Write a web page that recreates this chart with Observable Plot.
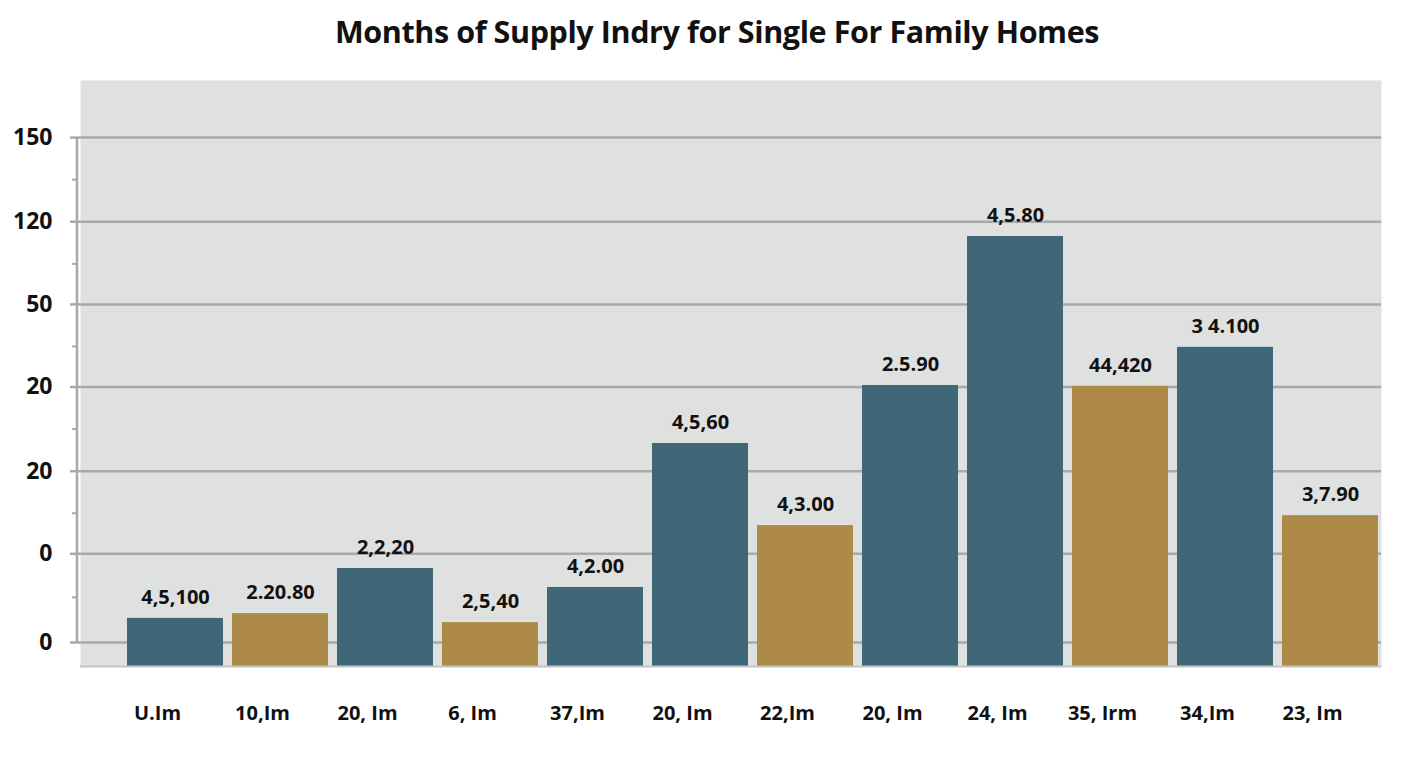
<!DOCTYPE html>
<html>
<head>
<meta charset="utf-8">
<script src="https://cdn.jsdelivr.net/npm/d3@7"></script>
<script src="https://cdn.jsdelivr.net/npm/@observablehq/plot@0.6"></script>
<style>
  html, body { margin: 0; padding: 0; background: #ffffff; }
  body { width: 1408px; height: 768px; overflow: hidden; font-family: "Open Sans", sans-serif; }
  #title { height: 62px; line-height: 62px; text-align: center; font-size: 30.5px; font-weight: 700; color: #111; padding-left: 26px; letter-spacing: -0.4px; }
  #chart svg { display: block; }
</style>
</head>
<body>
<div id="title">Months of Supply Indry for Single For Family Homes</div>
<div id="chart"></div>
<script>
// Categories (x tick labels)
const categories = ["U.Im", "10,Im", "20, Im", "6, Im", "37,Im", "20, Im", "22,Im", "20, Im", "24, Im", "35, Irm", "34,Im", "23, Im"];
// Bar heights (in chart units)
const values = [16.0, 17.6, 32.6, 14.6, 26.3, 74.2, 46.9, 93.5, 143.1, 93.2, 106.2, 50.2];
// Series membership of each bar
const series = ["A", "B", "A", "B", "A", "A", "B", "A", "A", "B", "A", "B"];
// Value labels printed above bars
const valueLabels = ["4,5,100", "2.20.80", "2,2,20", "2,5,40", "4,2.00", "4,5,60", "4,3.00", "2.5.90", "4,5.80", "44,420", "3 4.100", "3,7.90"];
// Y axis tick positions and their printed labels
const yTickPos = [8, 37.5, 65, 93, 120.5, 148, 176];
const yTickLabels = ["0", "0", "20", "20", "50", "120", "150"];
const yMinorTicks = [23, 51, 79, 106.5, 134, 162];

const data = categories.map((c, i) => ({key: i, cat: c, value: values[i], series: series[i], label: valueLabels[i]}));
const labelByPos = new Map(yTickPos.map((p, i) => [p, yTickLabels[i]]));
const catByKey = new Map(data.map(d => [d.key, d.cat]));

const axisLine = (index, scales, values, dimensions) => {
  const x = dimensions.marginLeft - 3;
  const y1 = scales.y(d3.max(yTickPos));
  const y2 = scales.y(d3.min(yTickPos));
  const line = d3.create("svg:line")
    .attr("x1", x).attr("x2", x)
    .attr("y1", y1).attr("y2", y2)
    .attr("stroke", "#a8a8a8").attr("stroke-width", 2.5);
  return line.node();
};

const chart = Plot.plot({
  width: 1408,
  height: 706,
  marginLeft: 80,
  marginRight: 27,
  marginTop: 18,
  marginBottom: 102,
  style: {fontFamily: "Open Sans, sans-serif", background: "transparent", overflow: "visible"},
  x: {domain: data.map(d => d.key), paddingInner: 0.09, paddingOuter: 0, insetLeft: 44},
  y: {domain: [0, 195]},
  color: {domain: ["A", "B"], range: ["#3e6878", "#ad8a48"]},
  marks: [
    Plot.frame({fill: "#dfe0e0", stroke: null}),
    Plot.ruleY(yTickPos, {stroke: "#a9a9a9", strokeWidth: 2.5}),
    Plot.axisY({ticks: yMinorTicks, tickSize: 5, dx: -3, tickFormat: () => "", stroke: "#a8a8a8", strokeWidth: 2, label: null}),
    Plot.axisY({ticks: yTickPos, tickSize: 10, tickPadding: 18, tickFormat: d => labelByPos.get(d), fontSize: 23, fontWeight: 700, fill: "#111", stroke: "#a8a8a8", strokeWidth: 2.5, label: null}),
    axisLine,
    Plot.barY(data, {x: "key", y: "value", fill: "series"}),
    Plot.ruleY([0], {stroke: "#c4c4c4", strokeWidth: 2}),
    Plot.text(data, {x: "key", y: "value", text: "label", dy: -21, fontSize: 20, fontWeight: 700, fill: "#111"}),
    Plot.axisX({tickSize: 0, tickPadding: 39, dx: -18, tickFormat: k => catByKey.get(k), fontSize: 20, fontWeight: 700, fill: "#111", label: null})
  ]
});
document.getElementById("chart").appendChild(chart);
</script>
</body>
</html>
